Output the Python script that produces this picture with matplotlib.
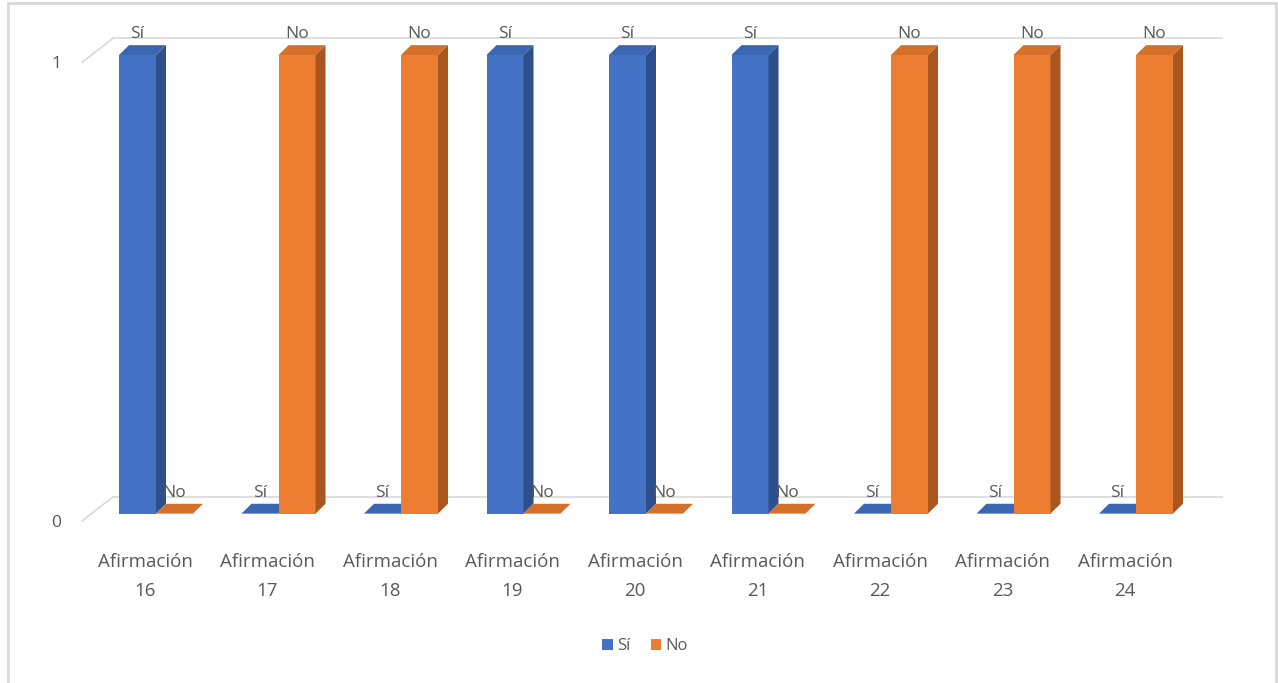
import matplotlib
matplotlib.use("Agg")
import matplotlib.pyplot as plt
from matplotlib.patches import Polygon, Patch, Rectangle
from matplotlib.lines import Line2D
import numpy as np

# ---------------- data ----------------
categories = ["Afirmación\n16", "Afirmación\n17", "Afirmación\n18", "Afirmación\n19",
              "Afirmación\n20", "Afirmación\n21", "Afirmación\n22", "Afirmación\n23",
              "Afirmación\n24"]
si_values = [1, 0, 0, 1, 1, 1, 0, 0, 0]
no_values = [0, 1, 1, 0, 0, 0, 1, 1, 1]
series_names = ["Sí", "No"]
y_ticks = [0, 1]
y_tick_labels = ["0", "1"]

# ---------------- style ----------------
plt.rcParams['font.family'] = ['Open Sans', 'DejaVu Sans']
TXT = "#595959"
GRID = "#d9d9d9"
FRONT = ["#4472C4", "#ED7D31"]
TOP = ["#3b66b2", "#d4702a"]
SIDE = ["#2d4f8c", "#a9561f"]

W, H, DPI = 1278, 683, 100
fig = plt.figure(figsize=(W / DPI, H / DPI), dpi=DPI)
fig.patch.set_facecolor("white")

# axes frame (pixel geometry of the front plane)
ax_l, ax_r, ax_top, ax_bot = 82, 1191, 55, 521
ax = fig.add_axes([ax_l / W, 1 - ax_bot / H, (ax_r - ax_l) / W, (ax_bot - ax_top) / H])
ax.set_facecolor("none")
for s in ax.spines.values():
    s.set_visible(False)

x = np.arange(len(categories))
cat_px = 122.5
first_px = 156
xlim = (-(first_px - ax_l) / cat_px, (len(categories) - 1) + (ax_r - (first_px + (len(categories) - 1) * cat_px)) / cat_px)
ax.set_xlim(*xlim)
ax.set_ylim(0, 1)

px_x = cat_px                 # pixels per x data unit
px_y = ax_bot - ax_top        # pixels per y data unit

# depth offsets in data units
bar_dx, bar_dy = 10 / px_x, 10 / px_y
back_dx, back_dy = 31 / px_x, 17 / px_y
front_dy = -7.5 / px_y

# ---------------- gridlines (back wall + side) ----------------
for v in y_ticks:
    ax.add_line(Line2D([xlim[0] + back_dx, xlim[1] + back_dx], [v + back_dy, v + back_dy],
                       color=GRID, lw=1.2, clip_on=False, zorder=1))
    ax.add_line(Line2D([xlim[0], xlim[0] + back_dx], [v + front_dy, v + back_dy],
                       color=GRID, lw=1.2, clip_on=False, zorder=1))

# ---------------- bars ----------------
bw = 37 / px_x
series = [si_values, no_values]
for k, vals in enumerate(series):
    lefts = x - bw + k * bw
    ax.bar(lefts, vals, width=bw, align="edge", color=FRONT[k], edgecolor="none",
           zorder=3 + k, clip_on=False)
    for xl, v in zip(lefts, vals):
        side = Polygon([(xl + bw, 0), (xl + bw + bar_dx, bar_dy), (xl + bw + bar_dx, v + bar_dy), (xl + bw, v)],
                       closed=True, facecolor=SIDE[k], edgecolor="none", zorder=3 + k, clip_on=False)
        top = Polygon([(xl, v), (xl + bw, v), (xl + bw + bar_dx, v + bar_dy), (xl + bar_dx, v + bar_dy)],
                      closed=True, facecolor=TOP[k], edgecolor="none", zorder=3 + k, clip_on=False)
        ax.add_patch(side)
        ax.add_patch(top)
        ax.annotate(series_names[k], (xl + bw / 2, v), xytext=(0, 17), textcoords="offset pixels",
                    ha="center", va="baseline", fontsize=12.5, color=TXT, zorder=10,
                    annotation_clip=False)

# ---------------- axis labels ----------------
ax.set_xticks(x - 11 / px_x)
ax.set_xticklabels(categories, fontsize=13.5, color=TXT, linespacing=1.8)
ax.tick_params(axis="x", length=0, pad=23)
ax.set_yticks([v + front_dy for v in y_ticks])
ax.set_yticklabels(y_tick_labels, fontsize=12.5, color=TXT)
ax.tick_params(axis="y", length=0, pad=15)

# ---------------- legend ----------------
handles = [Patch(facecolor=FRONT[0], edgecolor="none"), Patch(facecolor=FRONT[1], edgecolor="none")]
leg = fig.legend(handles, series_names, loc="center", bbox_to_anchor=(645 / W, 1 - 646 / H),
                 ncol=2, frameon=False, fontsize=12, handlelength=0.65, handleheight=0.65,
                 handletextpad=0.25, columnspacing=1.2, borderaxespad=0)
for t in leg.get_texts():
    t.set_color(TXT)

# ---------------- chart border ----------------
fig.patches.append(Rectangle((8 / W, -0.01), (1276 - 8) / W, 1 - 3 / H + 0.01, transform=fig.transFigure,
                             facecolor="none", edgecolor=GRID, lw=2, zorder=0))

fig.savefig("out.png", dpi=DPI)
